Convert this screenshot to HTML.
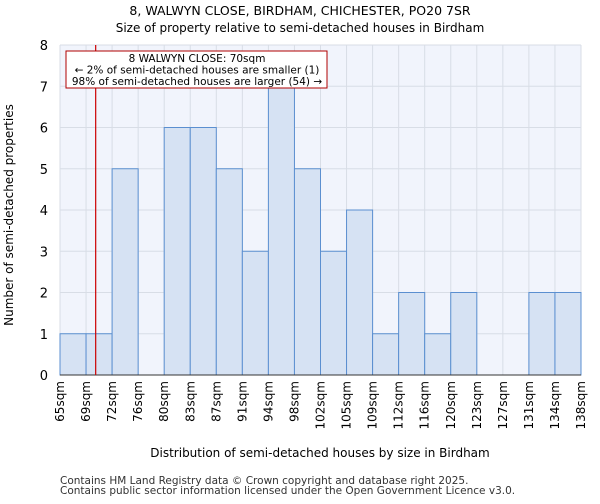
<!DOCTYPE html>
<html><head><meta charset="utf-8"><style>
body{margin:0;background:#fff;font-family:"DejaVu Sans","Liberation Sans",sans-serif;}
</style></head><body>
<svg width="600" height="500" xmlns="http://www.w3.org/2000/svg" font-family="DejaVu Sans, Liberation Sans, sans-serif">
<text x="300" y="15" text-anchor="middle" font-size="12.5">8, WALWYN CLOSE, BIRDHAM, CHICHESTER, PO20 7SR</text>
<text x="300" y="32" text-anchor="middle" font-size="12">Size of property relative to semi-detached houses in Birdham</text>
<rect x="60" y="45" width="521" height="330" fill="#f1f4fc"/>
<g id="grid"></g>
<g id="bars"></g>
<g id="axes"></g>
<line x1="60" y1="375" x2="581" y2="375" stroke="#333" stroke-width="1"/>
<line id="marker" y1="45" y2="375" stroke="#cc0000" stroke-width="1.2"/>
<g>
<rect x="66" y="51" width="261" height="37" fill="#fff" stroke="#b00000" stroke-width="1"/>
<text x="197" y="62" text-anchor="middle" font-size="10.5">8 WALWYN CLOSE: 70sqm</text>
<text x="197" y="73.5" text-anchor="middle" font-size="10.5">← 2% of semi-detached houses are smaller (1)</text>
<text x="197" y="85" text-anchor="middle" font-size="10.5">98% of semi-detached houses are larger (54) →</text>
</g>
<text transform="translate(13,215) rotate(-90)" text-anchor="middle" font-size="12">Number of semi-detached properties</text>
<text x="320" y="457" text-anchor="middle" font-size="12">Distribution of semi-detached houses by size in Birdham</text>
<text x="60" y="484" font-size="10.5" fill="#333">Contains HM Land Registry data © Crown copyright and database right 2025.</text>
<text x="60" y="494" font-size="10.5" fill="#333">Contains public sector information licensed under the Open Government Licence v3.0.</text>
</svg>
<script>
const tickLabels=["65sqm","69sqm","72sqm","76sqm","80sqm","83sqm","87sqm","91sqm","94sqm","98sqm","102sqm","105sqm","109sqm","112sqm","116sqm","120sqm","123sqm","127sqm","131sqm","134sqm","138sqm"];
const counts=[1,1,5,0,6,6,5,3,7,5,3,4,1,2,1,2,0,0,2,2];
const yTicks=[0,1,2,3,4,5,6,7,8];
const propertySize=70;
const xMin=65,xMax=138;
const NS="http://www.w3.org/2000/svg";
const L=60,R=581,T=45,B=375,yMax=8;
const n=counts.length,bw=(R-L)/n;
const xb=i=>L+i*bw;
const y=v=>B-(v/yMax)*(B-T);
const xv=v=>L+(v-xMin)/(xMax-xMin)*(R-L);
function mk(tag,attrs,p){const e=document.createElementNS(NS,tag);for(const k in attrs)e.setAttribute(k,attrs[k]);p.appendChild(e);return e;}
const grid=document.getElementById('grid'),bars=document.getElementById('bars'),axes=document.getElementById('axes');
for(let i=0;i<=n;i++){mk('line',{x1:xb(i),x2:xb(i),y1:T,y2:B,stroke:'#d8dde6','stroke-width':1},grid);}
yTicks.forEach(t=>{
 mk('line',{x1:L,x2:R,y1:y(t),y2:y(t),stroke:'#d8dde6','stroke-width':1},grid);
 const tx=mk('text',{x:L-12,y:y(t)+5,'text-anchor':'end','font-size':13},axes);tx.textContent=t;
 
 
});
counts.forEach((c,i)=>{
 if(c<=0)return;
 const r=mk('rect',{x:xb(i),y:y(c),width:bw,height:y(0)-y(c),fill:'#d6e2f3',stroke:'#5b8fd0','stroke-width':1},bars);
 
 
});
tickLabels.forEach((lab,i)=>{
 const x=xb(i);
 const t=mk('text',{transform:`translate(${x+4},${B+6}) rotate(-90)`,'text-anchor':'end','font-size':12},axes);t.textContent=lab;
 
 
});
const m=document.getElementById('marker');m.setAttribute('x1',xv(propertySize));m.setAttribute('x2',xv(propertySize));
</script>
</body></html>
